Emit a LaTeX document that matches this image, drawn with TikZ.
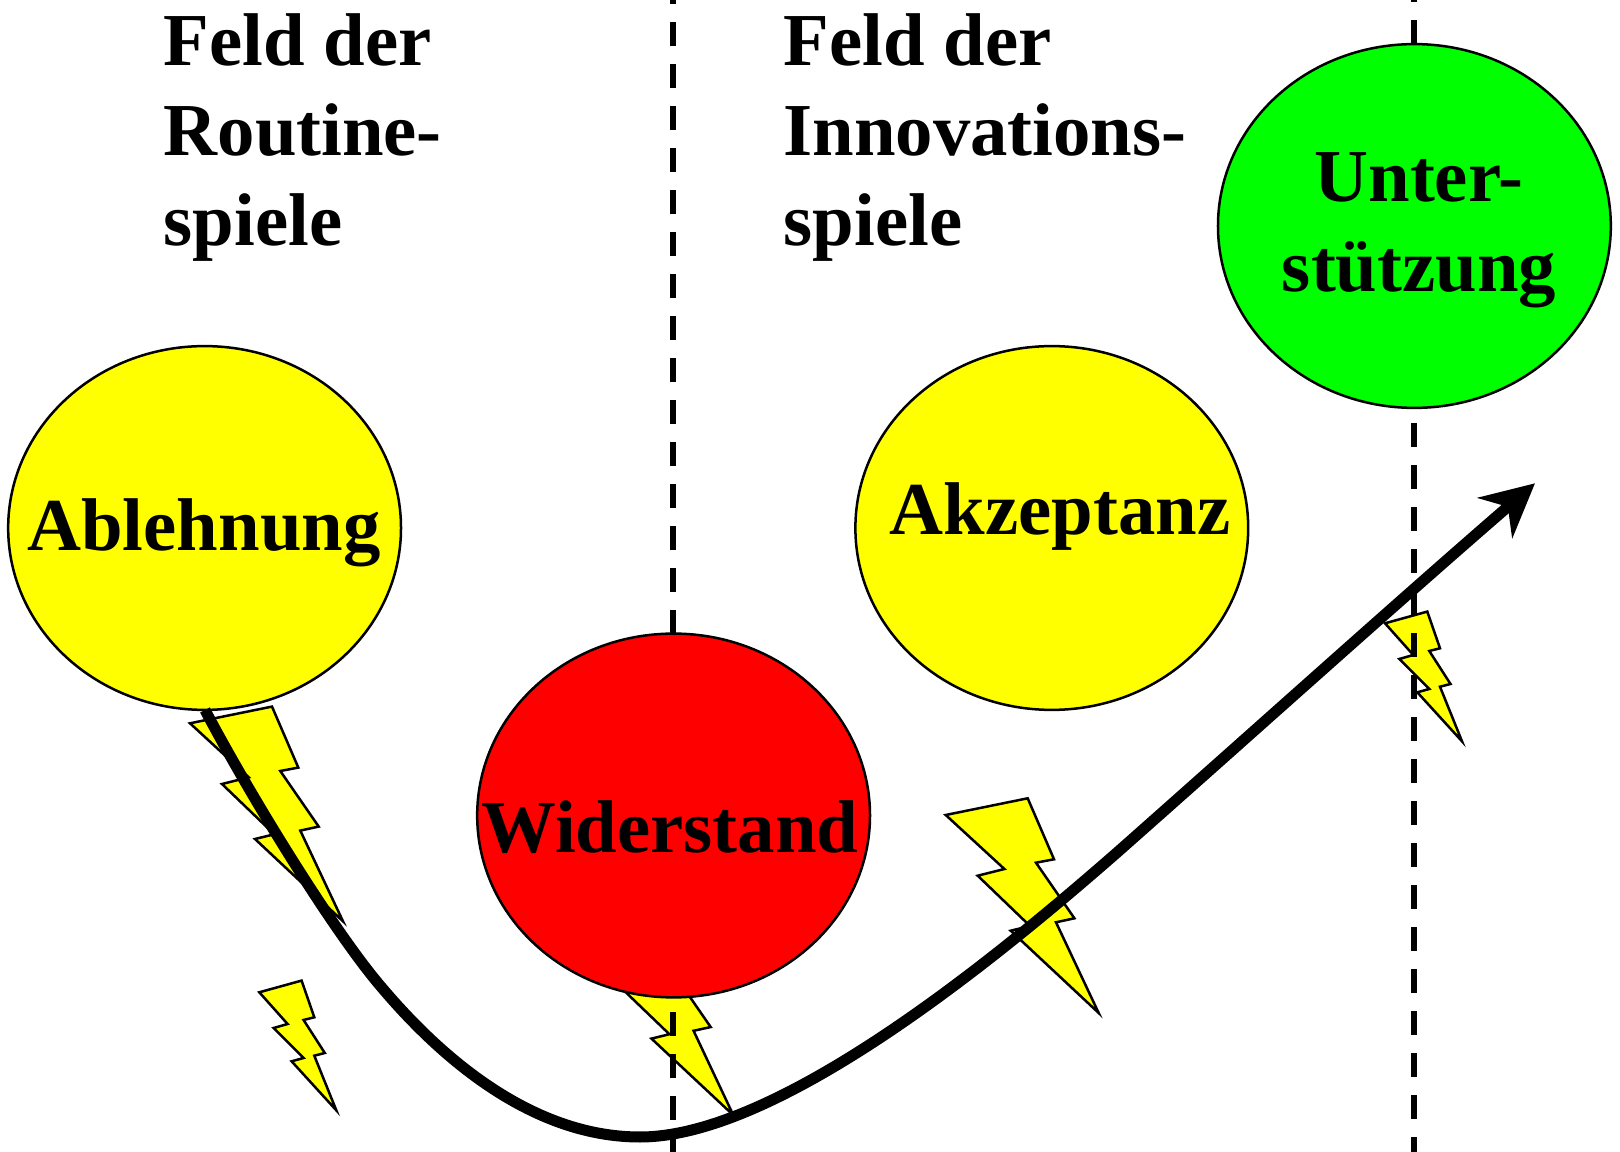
\documentclass[tikz,border=0pt]{standalone}
\usepackage{fontspec}
\setmainfont{Liberation Serif}
\usetikzlibrary{shapes.geometric,arrows.meta}
\definecolor{boltyellow}{RGB}{255,255,0}
\tikzset{
  boltfill/.style={fill=boltyellow,draw=black,line width=0.025cm},
  bigbolt/.pic={\draw[boltfill] (0,0) -- (82,-16.7) -- (108.3,44.3) -- (90.3,47.7) -- (128.7,103.3) -- (110.3,107.3) -- (153,198) -- (65,115.7) -- (84.3,111) -- (32,60.7) -- (58.7,54) -- cycle;},
  smallbolt/.pic={\draw[boltfill] (0,0) -- (42.3,-11.7) -- (55,25) -- (44.3,27.7) -- (65.5,60.7) -- (55,63.4) -- (77,118) -- (32.3,69) -- (44.3,65.7) -- (14.3,35.7) -- (28.3,31.7) -- cycle;},
  field/.style={draw=black,line width=0.025cm,ellipse,inner sep=0pt,minimum width=3.926cm,minimum height=3.636cm},
  border/.style={line width=0.06cm,dash pattern=on 0.24cm off 0.18cm},
  heading/.style={font=\bfseries\fontsize{21.25}{25.7}\selectfont,inner sep=0pt}
}
\begin{document}
\begin{tikzpicture}[x=0.01cm,y=-0.01cm]
\useasboundingbox (0,0) rectangle (1620,1152);
% lightning
\pic at (190,723.3) {bigbolt};
\pic at (945.7,815) {bigbolt};
\pic[scale=0.93] at (591,931) {bigbolt};
\pic at (259.3,992.3) {smallbolt};
\pic at (1385,623.3) {smallbolt};
% field borders
\draw[border] (673,-20) -- (673,700);
\draw[border] (673,970) -- (673,1152);
\draw[border] (1414,-22) -- (1414,100);
\draw[border] (1414,423) -- (1414,1152);
% reactions
\node[field,fill=boltyellow] (ablehnung) at (204.6,528) {};
\node[field,fill=boltyellow] (akzeptanz) at (1051.8,528) {};
\node[field,fill=red] (widerstand) at (673.6,815.5) {};
\node[field,fill=green] (unterstuetzung) at (1414.4,226) {};
\node[heading,anchor=base] (ablehnungtext) at (204,551) {Ablehnung};
\node[heading,anchor=base] (akzeptanztext) at (1060,535) {Akzeptanz};
\node[heading,anchor=base] (widerstandtext) at (670,853) {Widerstand};
\node[heading,anchor=base,align=center] (unterstuetzungtext) at (1419,291.5) {Unter-\\stützung};
\node[heading,anchor=base west,align=left] (routine) at (163,246) {Feld der\\Routine-\\spiele};
\node[heading,anchor=base west,align=left] (innovation) at (783,246) {Feld der\\Innovations-\\spiele};
% course of the reaction
\draw[line width=0.11cm,-{Stealth[length=15pt,width=15pt,inset=4.8pt]}] (205,710) .. controls (250,795) and (325,917) .. (373,977) .. controls (448,1069) and (540,1137) .. (640,1137) .. controls (780,1137) and (1000,955) .. (1118,851.7) .. controls (1250,735) and (1400,600) .. (1535,483.3);
\end{tikzpicture}
\end{document}
